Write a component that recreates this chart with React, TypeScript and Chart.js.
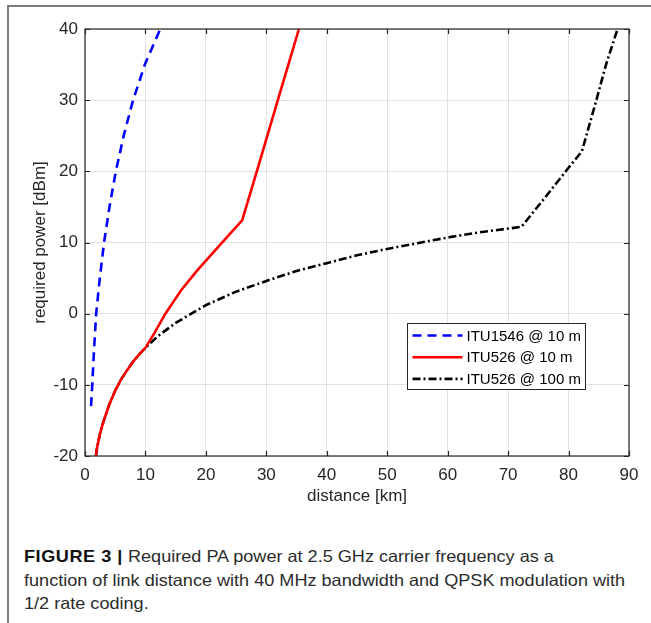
import React, { useEffect, useRef } from "react";
import { Chart, registerables } from "chart.js";

Chart.register(...registerables);

// ---- data ----
const xTickValues = [0, 10, 20, 30, 40, 50, 60, 70, 80, 90];
const yTickValues = [-20, -10, 0, 10, 20, 30, 40];

const seriesLabels = ["ITU1546 @ 10 m", "ITU526 @ 10 m", "ITU526 @ 100 m"];

const itu1546Dist = [1.0, 1.2, 1.5, 1.85, 2.45, 3.15, 4.05, 5.1, 6.4, 7.95, 9.9, 12.45];
const itu1546Power = [-13, -10, -5, 0, 5, 10, 15, 20, 25, 30, 35, 40];

const itu526_10Dist = [1.8, 2, 2.5, 3, 4, 5, 6, 7, 8, 9, 10, 11.5, 13.3, 15.9, 18.4, 20.6, 22.9, 26, 28.6, 31.9, 35.4];
const itu526_10Power = [-20, -18.8, -16.8, -15.3, -12.8, -10.8, -9.2, -7.9, -6.7, -5.7, -4.8, -2.7, 0, 3.3, 5.9, 8.0, 10.2, 13.1, 20.5, 30, 40];

const itu526_100Dist = [1.8, 2, 2.5, 3, 4, 5, 6, 7, 8, 9, 10, 12, 15, 20, 25, 30, 35, 40, 45, 50, 55, 60, 65, 72.2, 76, 80, 82.2, 84.6, 86.2, 88.1];
const itu526_100Power = [-20, -18.8, -16.8, -15.3, -12.8, -10.8, -9.2, -7.9, -6.7, -5.7, -4.8, -3.2, -1.3, 1.2, 3.1, 4.6, 6.0, 7.1, 8.2, 9.1, 9.9, 10.7, 11.4, 12.2, 16.2, 20.5, 22.8, 30, 35, 40];

const toPoints = (xs: number[], ys: number[]) => xs.map((x, i) => ({ x, y: ys[i] }));

const AXIS_COLOR = "#262626";
const FONT = "'Liberation Sans', Arial, Helvetica, sans-serif";

const matlabAxesPlugin = {
  id: "matlabAxes",
  afterDatasetsDraw(chart: any) {
    const { ctx, chartArea: a, scales } = chart;
    const xs = scales.x;
    const ys = scales.y;
    ctx.save();
    ctx.strokeStyle = AXIS_COLOR;
    ctx.lineWidth = 1.2;
    ctx.setLineDash([]);
    const tl = 5;
    ctx.beginPath();
    xTickValues.forEach((v) => {
      const p = Math.round(xs.getPixelForValue(v)) + 0.5;
      ctx.moveTo(p, a.bottom);
      ctx.lineTo(p, a.bottom - tl);
      ctx.moveTo(p, a.top);
      ctx.lineTo(p, a.top + tl);
    });
    yTickValues.forEach((v) => {
      const p = Math.round(ys.getPixelForValue(v)) + 0.5;
      ctx.moveTo(a.left, p);
      ctx.lineTo(a.left + tl, p);
      ctx.moveTo(a.right, p);
      ctx.lineTo(a.right - tl, p);
    });
    ctx.stroke();
    ctx.strokeRect(a.left, a.top, a.right - a.left, a.bottom - a.top);

    // legend box (inside axes, lower right)
    const bx = 407.5, by = 323.5, bw = 178, bh = 66;
    ctx.fillStyle = "#ffffff";
    ctx.fillRect(bx, by, bw, bh);
    ctx.lineWidth = 1;
    ctx.strokeStyle = AXIS_COLOR;
    ctx.strokeRect(bx, by, bw, bh);
    ctx.font = `15px ${FONT}`;
    ctx.textBaseline = "middle";
    ctx.textAlign = "left";
    chart.data.datasets.forEach((ds: any, i: number) => {
      const y = by + 12 + i * 21.7;
      ctx.save();
      ctx.strokeStyle = ds.borderColor;
      ctx.lineWidth = ds.borderWidth;
      ctx.setLineDash(ds.borderDash || []);
      ctx.beginPath();
      ctx.moveTo(bx + 5, y);
      ctx.lineTo(bx + 55, y);
      ctx.stroke();
      ctx.restore();
      ctx.fillStyle = "#000000";
      ctx.fillText(ds.label, bx + 59, y + 1);
    });
    ctx.restore();
  },
};

export default function App() {
  const canvasRef = useRef<HTMLCanvasElement | null>(null);

  useEffect(() => {
    if (!canvasRef.current) return;
    const chart = new Chart(canvasRef.current, {
      type: "line",
      data: {
        datasets: [
          {
            label: seriesLabels[0],
            data: toPoints(itu1546Dist, itu1546Power),
            borderColor: "#0000ff",
            borderWidth: 2.6,
            borderDash: [9, 6],
            pointRadius: 0,
            fill: false,
            tension: 0,
          },
          {
            label: seriesLabels[1],
            data: toPoints(itu526_10Dist, itu526_10Power),
            borderColor: "#ff0000",
            borderWidth: 2.6,
            pointRadius: 0,
            fill: false,
            tension: 0,
          },
          {
            label: seriesLabels[2],
            data: toPoints(itu526_100Dist, itu526_100Power),
            borderColor: "#000000",
            borderWidth: 2.6,
            borderDash: [8, 3, 2, 3],
            pointRadius: 0,
            fill: false,
            tension: 0,
          },
        ],
      },
      options: {
        animation: false,
        responsive: false,
        devicePixelRatio: 1,
        layout: { padding: { left: 0, top: 29, right: 22, bottom: 0 } },
        plugins: { legend: { display: false }, tooltip: { enabled: false } },
        scales: {
          x: {
            type: "linear",
            min: 0,
            max: 90,
            afterBuildTicks: (s: any) => {
              s.ticks = xTickValues.map((v) => ({ value: v }));
            },
            ticks: {
              color: AXIS_COLOR,
              font: { size: 17, family: FONT },
              padding: 9,
              maxRotation: 0,
              autoSkip: false,
            },
            grid: { color: "#e0e0e0", lineWidth: 1, drawTicks: false },
            border: { display: false },
            title: {
              display: true,
              text: "distance [km]",
              color: AXIS_COLOR,
              font: { size: 17, family: FONT },
              padding: { top: 0, bottom: 8 },
            },
            afterFit: (s: any) => {
              s.height = 59;
            },
          },
          y: {
            type: "linear",
            min: -20,
            max: 40,
            afterBuildTicks: (s: any) => {
              s.ticks = yTickValues.map((v) => ({ value: v }));
            },
            ticks: {
              color: AXIS_COLOR,
              font: { size: 17, family: FONT },
              padding: 7,
              autoSkip: false,
            },
            grid: { color: "#e0e0e0", lineWidth: 1, drawTicks: false },
            border: { display: false },
            title: {
              display: true,
              text: "required power [dBm]",
              color: AXIS_COLOR,
              font: { size: 17, family: FONT },
              padding: { top: 30, bottom: 0 },
            },
            afterFit: (s: any) => {
              s.width = 85;
            },
          },
        },
      },
      plugins: [matlabAxesPlugin],
    });
    return () => chart.destroy();
  }, []);

  return (
    <div
      style={{
        position: "fixed",
        left: 0,
        top: 0,
        width: 651,
        height: 623,
        overflow: "hidden",
        background: "#ffffff",
      }}
    >
      <div
        style={{
          position: "absolute",
          left: 7,
          top: 5,
          width: 800,
          height: 800,
          borderTop: "2px solid #7d7d7d",
          borderLeft: "2px solid #7d7d7d",
        }}
      />
      <canvas
        ref={canvasRef}
        width={651}
        height={515}
        style={{ position: "absolute", left: 0, top: 0, width: 651, height: 515 }}
      />
      <div
        style={{
          position: "absolute",
          left: 24,
          top: 545,
          whiteSpace: "nowrap",
          fontFamily: FONT,
          fontSize: 16.5,
          lineHeight: "23.5px",
          color: "#2b2b2b",
          transform: "scaleX(1.096)",
          transformOrigin: "0 0",
        }}
      >
        <span style={{ fontWeight: "bold", color: "#111", letterSpacing: 0.5 }}>FIGURE 3 |</span> Required PA power at 2.5 GHz carrier frequency as a
        <br />
        function of link distance with 40 MHz bandwidth and QPSK modulation with
        <br />
        1/2 rate coding.
      </div>
    </div>
  );
}
